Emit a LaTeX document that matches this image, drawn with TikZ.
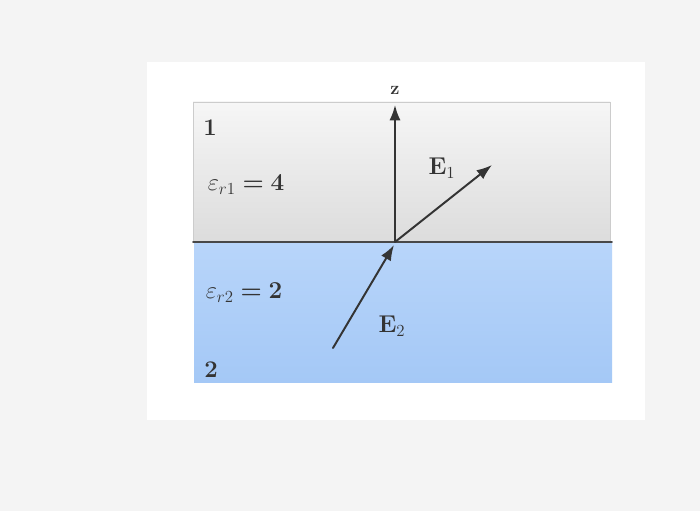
\documentclass[tikz,border=0pt]{standalone}
\usepackage{amsmath}
\usepackage{tikz}
\usepackage{tkz-euclide}
\usetikzlibrary{arrows.meta}
\definecolor{pagebg}{RGB}{244,244,244}
\definecolor{inkgrey}{RGB}{52,52,52}
\definecolor{mediumtop}{RGB}{246,246,246}
\definecolor{mediumbot}{RGB}{220,220,220}
\definecolor{waterTop}{RGB}{184,213,250}
\definecolor{waterBot}{RGB}{164,200,246}
\tikzset{
  txt/.style={text=inkgrey,font=\fontsize{18}{21}\selectfont,inner sep=0pt},
  vec/.style={inkgrey,line width=1.4pt,-{Latex[length=11pt,width=8pt]}}
}
\begin{document}
\begin{tikzpicture}[x=.025cm,y=.025cm]
    \useasboundingbox (0,0) rectangle (700,511);
    \fill[pagebg] (0,0) rectangle (700,511);
    \fill[white] (147,91) rectangle (645,449);
    % the two media
    \shade[top color=mediumtop,bottom color=mediumbot] (193,269) rectangle (610,409);
    \draw[gray!40,line width=.6pt] (193,269) rectangle (610,409);
    \shade[top color=waterTop,bottom color=waterBot] (194,128) rectangle (612,269);
    \tkzDefPoint(193,269){L}
    \tkzDefPoint(612,269){R}
    \tkzDefPoint(395,269){O}
    \tkzDefPoint(395,406){Z}
    \tkzDefPoint(492,346){A}
    \tkzDefPoint(333,163){B}
    \tkzDefPoint(394,266){P}
    \tkzDrawSegments[line width=1.2pt,color=inkgrey!90](L,R)
    \tkzDrawSegments[vec](O,Z O,A B,P)
    \node[txt,font=\fontsize{13}{15}\selectfont\bfseries] (zlab) at (395,421) {z};
    \node[txt,font=\fontsize{17}{20}\selectfont] (e1lab) at (442,343) {$\mathbf{E}_1$};
    \node[txt,font=\fontsize{17}{20}\selectfont] (e2lab) at (392,185) {$\mathbf{E}_2$};
    \node[txt,font=\fontsize{17}{20}\selectfont\bfseries] (med1) at (210,383) {1};
    \node[txt] (eps1) at (246,326) {$\varepsilon_{r1}\mathrel{\boldsymbol{=}}\mathbf{4}$};
    \node[txt] (eps2) at (244,218) {$\varepsilon_{r2}\mathrel{\boldsymbol{=}}\mathbf{2}$};
    \node[txt,font=\fontsize{17}{20}\selectfont\bfseries] (med2) at (211,141) {2};
\end{tikzpicture}
\end{document}
